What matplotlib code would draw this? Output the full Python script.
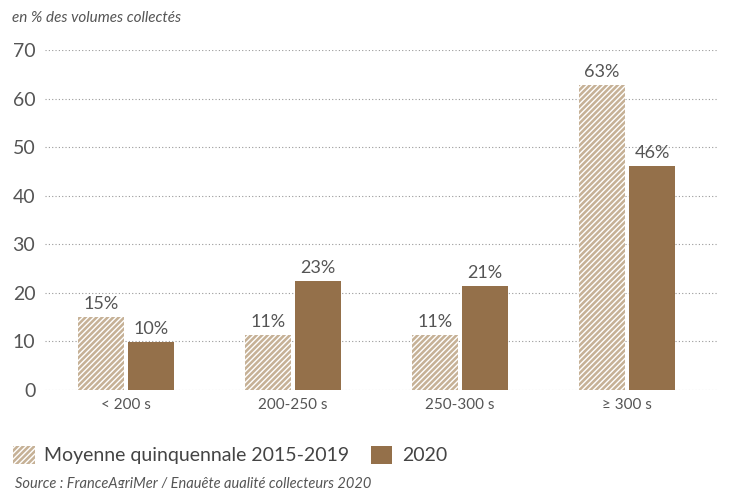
import matplotlib.pyplot as plt
import numpy as np
from matplotlib.patches import Patch

plt.rcParams['font.family'] = ['Lato', 'DejaVu Sans']
plt.rcParams['hatch.linewidth'] = 1.0

categories = ['< 200 s', '200-250 s', '250-300 s', '≥ 300 s']
moyenne = [15.0, 11.3, 11.3, 62.8]
annee_2020 = [9.9, 22.4, 21.4, 46.1]
labels_moyenne = ['15%', '11%', '11%', '63%']
labels_2020 = ['10%', '23%', '21%', '46%']

c_hatch = '#c6b196'
c_solid = '#94704a'
c_text = '#555555'

fig = plt.figure(figsize=(7.29, 4.88), dpi=100)
ax = fig.add_axes([45 / 729, 98 / 488, 673 / 729, 340 / 488])

x = np.arange(len(categories))
w = 0.275
off = 0.15

ax.bar(x - off, moyenne, w, color=c_hatch, edgecolor='white', linewidth=0, hatch='//////', zorder=3)
ax.bar(x + off, annee_2020, w, color=c_solid, linewidth=0, zorder=3)

for i in range(len(x)):
    ax.text(x[i] - off, moyenne[i] + 1.0, labels_moyenne[i], ha='center', va='bottom',
            fontsize=13, color=c_text)
    ax.text(x[i] + off, annee_2020[i] + 1.0, labels_2020[i], ha='center', va='bottom',
            fontsize=13, color=c_text)

ax.set_xlim(-0.485, 3.545)
ax.set_ylim(0, 70)
ax.set_yticks(np.arange(0, 71, 10))
ax.yaxis.grid(True, linestyle=(0, (1, 2)), color='#999999', linewidth=0.8, zorder=0)
ax.set_xticks(x)
ax.set_xticklabels(categories)
for s in ax.spines.values():
    s.set_visible(False)
ax.tick_params(axis='both', length=0, colors=c_text)
ax.tick_params(axis='y', labelsize=14, pad=7)
ax.tick_params(axis='x', labelsize=11, pad=6)

fig.text(12 / 729, 1 - 18 / 488, 'en % des volumes collectés', fontsize=11, style='italic',
         color=c_text, va='center')

handles = [Patch(facecolor=c_hatch, edgecolor='white', linewidth=0, hatch='//////'),
           Patch(facecolor=c_solid, linewidth=0)]
leg = fig.legend(handles, ['Moyenne quinquennale 2015-2019', '2020'], loc='center left',
                 bbox_to_anchor=(-0.006, 1 - 455 / 488), ncol=2, frameon=False, fontsize=14,
                 handlelength=1.1, handleheight=1.1, columnspacing=1.1, handletextpad=0.5)
for t in leg.get_texts():
    t.set_color('#444444')

fig.text(15 / 729, 1 - 484 / 488, 'Source : FranceAgriMer / Enquête qualité collecteurs 2020',
         fontsize=10.5, style='italic', color=c_text, va='center')

plt.savefig('out.png', dpi=100)
